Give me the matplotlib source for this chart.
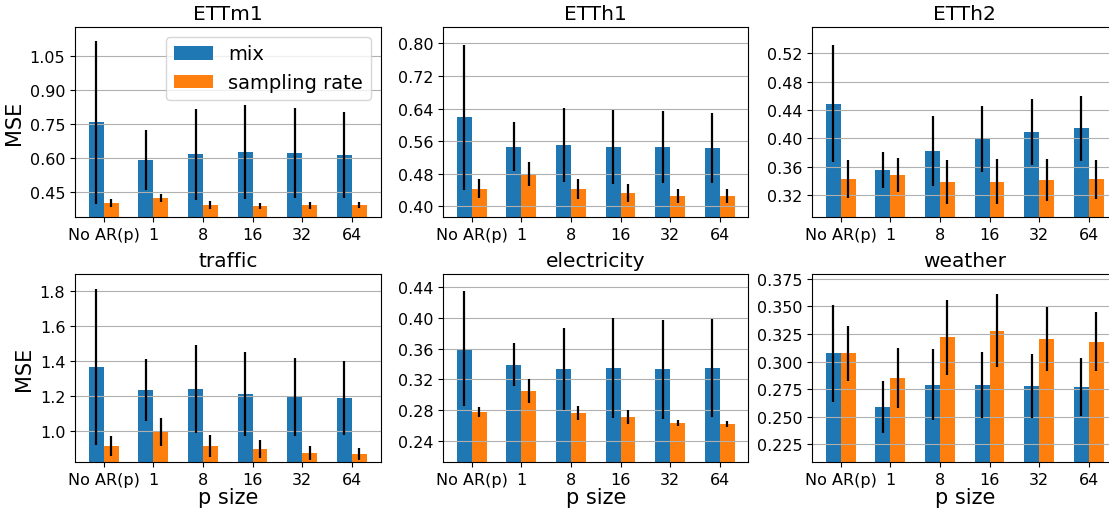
import numpy as np
import matplotlib.pyplot as plt
from matplotlib.ticker import MultipleLocator

# x axis: AR(p) order
p_labels = ['No AR(p)', '1', '8', '16', '32', '64']

# MSE mean and std for each dataset, one entry per p size
ettm1_mix = [0.757, 0.592, 0.618, 0.627, 0.622, 0.614]
ettm1_mix_std = [0.358, 0.133, 0.200, 0.206, 0.198, 0.188]
ettm1_sr = [0.403, 0.425, 0.394, 0.390, 0.394, 0.394]
ettm1_sr_std = [0.016, 0.018, 0.018, 0.015, 0.015, 0.014]

etth1_mix = [0.619, 0.546, 0.550, 0.546, 0.546, 0.543]
etth1_mix_std = [0.178, 0.060, 0.091, 0.090, 0.088, 0.085]
etth1_sr = [0.443, 0.479, 0.443, 0.433, 0.425, 0.425]
etth1_sr_std = [0.023, 0.030, 0.025, 0.022, 0.017, 0.017]

etth2_mix = [0.449, 0.355, 0.382, 0.399, 0.409, 0.414]
etth2_mix_std = [0.083, 0.025, 0.049, 0.047, 0.047, 0.046]
etth2_sr = [0.343, 0.348, 0.339, 0.339, 0.341, 0.342]
etth2_sr_std = [0.027, 0.024, 0.031, 0.032, 0.030, 0.028]

traffic_mix = [1.366, 1.234, 1.239, 1.209, 1.193, 1.188]
traffic_mix_std = [0.448, 0.180, 0.250, 0.242, 0.225, 0.212]
traffic_sr = [0.912, 0.992, 0.912, 0.895, 0.872, 0.866]
traffic_sr_std = [0.056, 0.079, 0.062, 0.052, 0.038, 0.034]

elec_mix = [0.360, 0.339, 0.333, 0.335, 0.333, 0.335]
elec_mix_std = [0.074, 0.028, 0.053, 0.065, 0.064, 0.063]
elec_sr = [0.278, 0.305, 0.277, 0.272, 0.264, 0.263]
elec_sr_std = [0.007, 0.015, 0.009, 0.009, 0.004, 0.004]

weather_mix = [0.3075, 0.259, 0.279, 0.279, 0.278, 0.277]
weather_mix_std = [0.044, 0.0235, 0.032, 0.030, 0.029, 0.026]
weather_sr = [0.3075, 0.285, 0.322, 0.328, 0.320, 0.318]
weather_sr_std = [0.025, 0.027, 0.034, 0.033, 0.029, 0.027]

panels = [
    ('ETTm1', ettm1_mix, ettm1_mix_std, ettm1_sr, ettm1_sr_std, (0.342, 1.176), 0.15),
    ('ETTh1', etth1_mix, etth1_mix_std, etth1_sr, etth1_sr_std, (0.374, 0.840), 0.08),
    ('ETTh2', etth2_mix, etth2_mix_std, etth2_sr, etth2_sr_std, (0.289, 0.557), 0.04),
    ('traffic', traffic_mix, traffic_mix_std, traffic_sr, traffic_sr_std, (0.820, 1.899), 0.2),
    ('electricity', elec_mix, elec_mix_std, elec_sr, elec_sr_std, (0.2134, 0.4563), 0.04),
    ('weather', weather_mix, weather_mix_std, weather_sr, weather_sr_std, (0.2091, 0.3792), 0.025),
]

W, H = 1109, 510
fig = plt.figure(figsize=(W / 100, H / 100), dpi=100)

# axes boxes in pixels (left, top, width, height)
lefts = [75, 443, 812]
tops = [28, 275]
heights = [190, 188]
width = 305.5

x = np.arange(len(p_labels))
w = 0.3
for k, (name, mix, mix_std, sr, sr_std, ylim, step) in enumerate(panels):
    row, col = divmod(k, 3)
    l, t, h = lefts[col], tops[row], heights[row]
    ax = fig.add_axes([l / W, 1 - (t + h) / H, width / W, h / H])
    ax.bar(x - w / 2, mix, w, yerr=mix_std, label='mix',
           error_kw=dict(elinewidth=1.6, ecolor='black'))
    ax.bar(x + w / 2, sr, w, yerr=sr_std, label='sampling rate',
           error_kw=dict(elinewidth=1.6, ecolor='black'))
    ax.set_ylim(*ylim)
    ax.yaxis.set_major_locator(MultipleLocator(step))
    ax.set_xticks(x)
    ax.set_xticklabels(p_labels)
    ax.tick_params(labelsize=11.5)
    ax.grid(axis='y')
    ax.set_title(name, fontsize=14.5)
    if col == 0:
        ax.set_ylabel('MSE', fontsize=15)
    if row == 1:
        ax.set_xlabel('p size', fontsize=15, labelpad=0)
    if k == 0:
        ax.legend(loc='upper right', fontsize=14)

fig.savefig('out.png', dpi=100)
